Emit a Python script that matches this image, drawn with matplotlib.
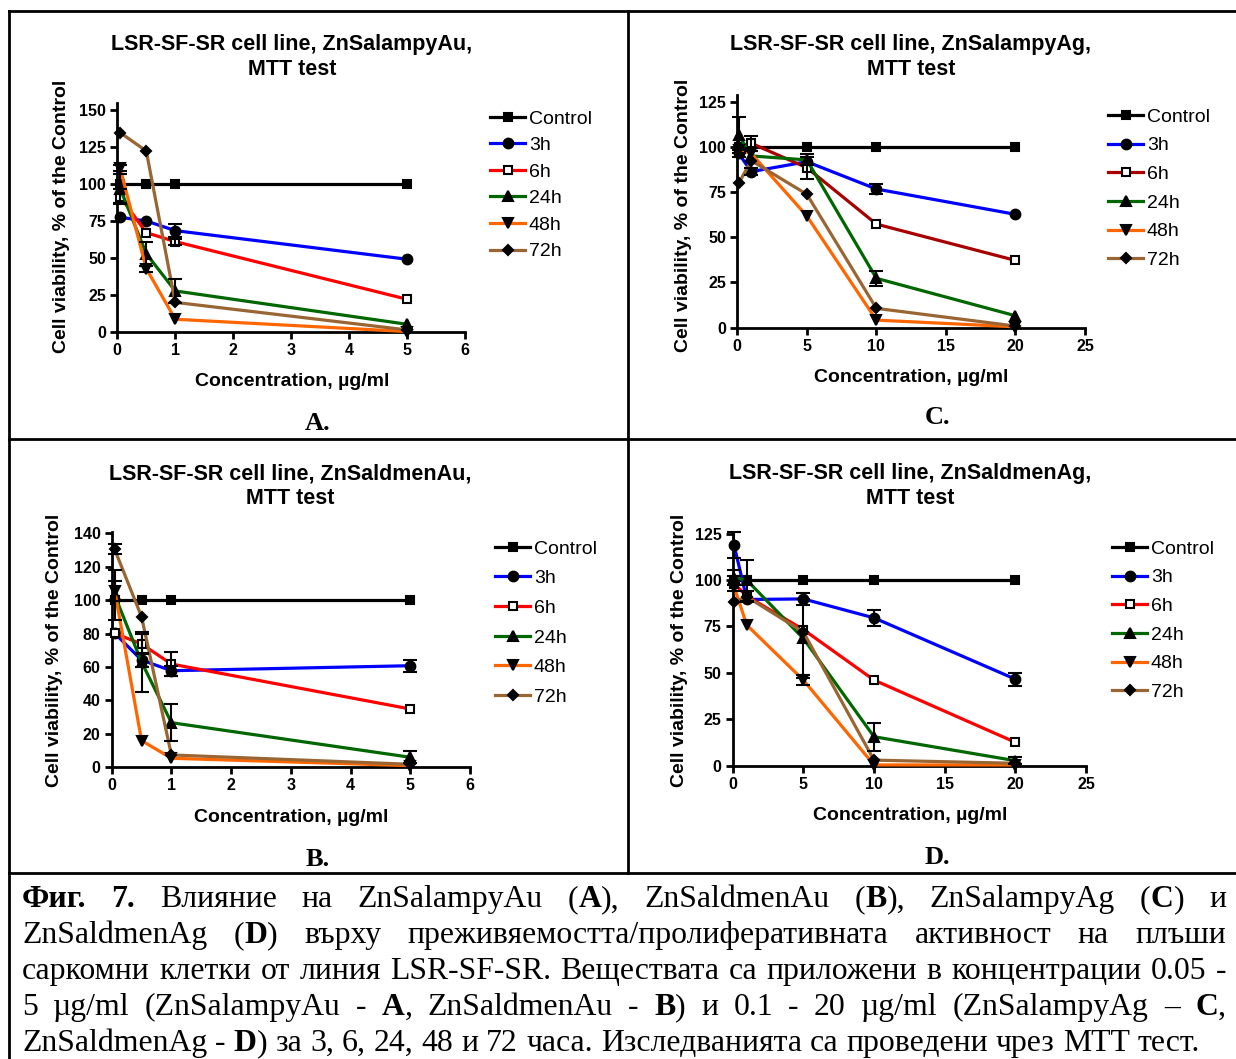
import matplotlib
matplotlib.use('Agg')
import matplotlib.pyplot as plt
from matplotlib.lines import Line2D

W, H = 1236, 1059
plt.rcParams['font.family'] = ['Liberation Sans', 'DejaVu Sans']

SERIES = ['Control', '3h', '6h', '24h', '48h', '72h']

# concentrations, ug/ml
AU_CONC = [0.05, 0.5, 1, 5]
AG_CONC = [0.1, 1, 5, 10, 20]

# ZnSalampyAu (A)
A_MEAN = {
    'Control': [100, 100, 100, 100],
    '3h': [77.6, 75.1, 68.6, 49.3],
    '6h': [91.5, 67.2, 61.2, 22.3],
    '24h': [97, 53, 27.9, 5.4],
    '48h': [110.6, 43, 8.8, 0.5],
    '72h': [134.7, 122.3, 20.2, 1.6],
}
A_SEM = {
    'Control': [0, 0, 0, 0],
    '3h': [0, 0, 4.5, 0],
    '6h': [5, 0, 2, 0],
    '24h': [10, 8, 8, 0],
    '48h': [2, 2, 0, 0],
    '72h': [0, 0, 0, 0],
}

# ZnSaldmenAu (B)
B_MEAN = {
    'Control': [100, 100, 100, 100],
    '3h': [80.2, 64.2, 57.8, 60.8],
    '6h': [80.2, 73.8, 61.8, 34.9],
    '24h': [103, 63, 26.7, 6],
    '48h': [105.7, 16, 5.4, 1],
    '72h': [130.4, 90.1, 7.4, 1.8],
}
B_SEM = {
    'Control': [0, 0, 0, 0],
    '3h': [0, 4, 3, 3.5],
    '6h': [0, 6, 7, 0],
    '24h': [15, 18, 11, 3.5],
    '48h': [6, 0, 0, 0],
    '72h': [3, 0, 0, 0],
}

# ZnSalampyAg (C)
C_MEAN = {
    'Control': [100, 100, 100, 100, 100],
    '3h': [96.4, 86.3, 91.8, 76.7, 62.7],
    '6h': [100, 102, 88.5, 57.3, 37.2],
    '24h': [106.6, 95, 92.8, 27.3, 6.6],
    '48h': [98.3, 96.4, 61.8, 4.2, 0.5],
    '72h': [79.8, 92.4, 73.8, 10.7, 0.9],
}
C_SEM = {
    'Control': [0, 0, 0, 0, 0],
    '3h': [2, 2, 0, 3, 0],
    '6h': [0, 4, 6, 0, 0],
    '24h': [10, 0, 3, 4, 0],
    '48h': [0, 0, 0, 0, 0],
    '72h': [0, 0, 0, 0, 0],
}

# ZnSaldmenAg (D)
D_MEAN = {
    'Control': [100, 100, 100, 100, 100],
    '3h': [118.7, 89.5, 89.8, 79.6, 46.6],
    '6h': [98, 91.3, 73.3, 46.1, 12.6],
    '24h': [101.3, 99.9, 68.5, 15.6, 2.7],
    '48h': [96.3, 75.7, 46.1, 0.4, 0.4],
    '72h': [88.2, 90.9, 72, 3, 1.3],
}
D_SEM = {
    'Control': [0, 0, 0, 0, 0],
    '3h': [7, 0, 3, 4.5, 3.5],
    '6h': [4, 0, 0, 0, 0],
    '24h': [4, 11, 21.5, 7.5, 2],
    '48h': [0, 0, 2.5, 0, 0],
    '72h': [0, 3, 0, 0, 0],
}

COLORS = {'Control': 'black', '3h': '#0000ff', '6h': '#ff0000',
          '24h': '#006600', '48h': '#ff6600', '72h': '#996633'}
MARKERS = {'Control': 's', '3h': 'o', '6h': 's', '24h': '^', '48h': 'v', '72h': 'D'}
MSIZE = {'Control': 6.3, '3h': 7, '6h': 6.3, '24h': 7.3, '48h': 7.3, '72h': 5}


def fx(x):
    return x / W


def fy(y):
    return 1 - y / H


panels = [
    dict(mean=A_MEAN, sem=A_SEM, x=AU_CONC, box=(117.3, 103.3, 465, 332.3),
         xlim=(0, 6), ylim=(0, 154.5), xticks=range(0, 7), yticks=range(0, 151, 25),
         title='LSR-SF-SR cell line, ZnSalampyAu,\nMTT test', tpos=(292, 57),
         ylab=(62, 216), xlab=(292, 381), leg=(490, 119), pitch=0.46,
         letter='A.', lpos=(318, 423), red='#ff0000'),
    dict(mean=C_MEAN, sem=C_SEM, x=AG_CONC, box=(737.3, 95, 1085, 327.7),
         xlim=(0, 25), ylim=(0, 128.7), xticks=range(0, 26, 5), yticks=range(0, 126, 25),
         title='LSR-SF-SR cell line, ZnSalampyAg,\nMTT test', tpos=(911, 57),
         ylab=(683, 215), xlab=(911, 377), leg=(1108, 117), pitch=0.57,
         letter='C.', lpos=(937, 418), red='#a80000'),
    dict(mean=B_MEAN, sem=B_SEM, x=AU_CONC, box=(111.7, 531.7, 470, 767.3),
         xlim=(0, 6), ylim=(0, 141), xticks=range(0, 7), yticks=range(0, 141, 20),
         title='LSR-SF-SR cell line, ZnSaldmenAu,\nMTT test', tpos=(290, 486),
         ylab=(55, 650), xlab=(291, 817), leg=(495, 549), pitch=0.62,
         letter='B.', lpos=(318, 860), red='#ff0000'),
    dict(mean=D_MEAN, sem=D_SEM, x=AG_CONC, box=(732.7, 531.7, 1086, 765.7),
         xlim=(0, 25), ylim=(0, 126), xticks=range(0, 26, 5), yticks=range(0, 126, 25),
         title='LSR-SF-SR cell line, ZnSaldmenAg,\nMTT test', tpos=(910, 486),
         ylab=(679, 650), xlab=(910, 815), leg=(1112, 549), pitch=0.57,
         letter='D.', lpos=(937, 858), red='#ff0000'),
]

fig = plt.figure(figsize=(W / 100, H / 100), dpi=100)

for p in panels:
    l, t, r, b = p['box']
    ax = fig.add_axes([fx(l), fy(b), (r - l) / W, (b - t) / H])
    handles = []
    for s in SERIES:
        col = p['red'] if s == '6h' else COLORS[s]
        face = 'white' if s == '6h' else 'black'
        ln, = ax.plot(p['x'], p['mean'][s], color=col, lw=2.3, marker=MARKERS[s],
                      ms=MSIZE[s], mfc=face, mec='black', mew=1.5, clip_on=False,
                      zorder=3, label=s)
        handles.append(ln)
        ex = [xv for xv, e in zip(p['x'], p['sem'][s]) if e > 0]
        ey = [yv for yv, e in zip(p['mean'][s], p['sem'][s]) if e > 0]
        ee = [e for e in p['sem'][s] if e > 0]
        if ee:
            ax.errorbar(ex, ey, yerr=ee, fmt='none', ecolor='black', elinewidth=1.5,
                        capsize=5, capthick=1.5, clip_on=False, zorder=4)
    ax.set_xlim(*p['xlim'])
    ax.set_ylim(*p['ylim'])
    ax.set_xticks(list(p['xticks']))
    ax.set_yticks(list(p['yticks']))
    for sp in ['top', 'right']:
        ax.spines[sp].set_visible(False)
    for sp in ['left', 'bottom']:
        ax.spines[sp].set_linewidth(2)
    ax.tick_params(direction='out', length=5, width=2, labelsize=11.5, pad=3)
    for lab in ax.get_xticklabels() + ax.get_yticklabels():
        lab.set_fontweight('bold')

    fig.text(fx(p['tpos'][0]), fy(p['tpos'][1]), p['title'], ha='center', va='center',
             fontsize=15.5, fontweight='bold', linespacing=1.2)
    fig.text(fx(p['ylab'][0]), fy(p['ylab'][1]), 'Cell viability, % of the Control',
             rotation=90, ha='center', va='center', fontsize=14, fontweight='bold')
    fig.text(fx(p['xlab'][0]), fy(p['xlab'][1]), 'Concentration, µg/ml',
             ha='center', va='center', fontsize=14, fontweight='bold')
    fig.legend(handles=handles, loc='upper left',
               bbox_to_anchor=(fx(p['leg'][0]), fy(p['leg'][1] - 9)),
               frameon=False, fontsize=14, borderpad=0, borderaxespad=0,
               handlelength=1.8, handletextpad=0.2, labelspacing=p['pitch'])
    fig.text(fx(p['lpos'][0]), fy(p['lpos'][1]), p['letter'], ha='center', va='center',
             fontsize=19, fontweight='bold', family='Liberation Serif')

# frame lines of the figure table
frame = [((9, 1236), (11, 11)), ((9, 9), (11, 1059)), ((628, 628), (11, 873)),
         ((9, 1236), (439, 439)), ((9, 1236), (873, 873))]
for xs, ys in frame:
    fig.add_artist(Line2D([fx(v) for v in xs], [fy(v) for v in ys], color='black', lw=2))

# caption, justified
CAPTION = [
    [('Фиг. 7.', True), (' Влияние на ZnSalampyAu (', False), ('A', True),
     ('), ZnSaldmenAu (', False), ('B', True), ('), ZnSalampyAg (', False),
     ('C', True), (') и', False)],
    [('ZnSaldmenAg (', False), ('D', True),
     (') върху преживяемостта/пролиферативната активност на плъши', False)],
    [('саркомни клетки от линия LSR-SF-SR. Веществата са приложени в концентрации 0.05 -', False)],
    [('5 µg/ml (ZnSalampyAu - ', False), ('A', True), (', ZnSaldmenAu - ', False),
     ('B', True), (') и 0.1 - 20 µg/ml  (ZnSalampyAg – ', False), ('C', True), (',', False)],
    [('ZnSaldmenAg - ', False), ('D', True),
     (') за 3, 6, 24, 48 и 72 часа. Изследванията са проведени чрез MTT тест.', False)],
]
CAP_SIZE = 22.9
CAP_LEFT, CAP_RIGHT = 22, 1226
CAP_BASE = [907, 943, 979, 1015, 1051]

renderer = fig.canvas.get_renderer()


def split_words(segs):
    words = [[]]
    for text, bold in segs:
        parts = text.split(' ')
        for i, part in enumerate(parts):
            if i > 0:
                words.append([])
            if part:
                words[-1].append((part, bold))
    return [w for w in words if w]


def text_width(s, bold):
    t = fig.text(0, 0, s, fontsize=CAP_SIZE, family='Liberation Serif',
                 fontweight='bold' if bold else 'normal')
    w = t.get_window_extent(renderer).width
    t.remove()
    return w


space_w = text_width('a a', False) - text_width('aa', False)

for i, segs in enumerate(CAPTION):
    words = split_words(segs)
    widths = [[text_width(s, b) for s, b in w] for w in words]
    total = sum(sum(ws) for ws in widths)
    last = i == len(CAPTION) - 1
    gap = space_w if last else (CAP_RIGHT - CAP_LEFT - total) / (len(words) - 1)
    x = CAP_LEFT
    for w, ws in zip(words, widths):
        for (s, b), sw in zip(w, ws):
            fig.text(fx(x), fy(CAP_BASE[i]), s, fontsize=CAP_SIZE, family='Liberation Serif',
                     fontweight='bold' if b else 'normal', va='baseline', ha='left')
            x += sw
        x += gap

fig.savefig('out.png', dpi=100)
